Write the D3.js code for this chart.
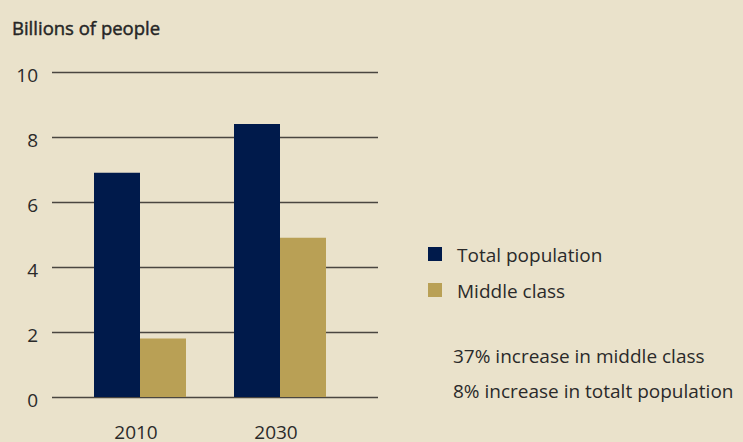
<!DOCTYPE html>
<html><head><meta charset="utf-8">
<script src="https://cdn.jsdelivr.net/npm/d3@7"></script>
<style>
html,body{margin:0;padding:0;background:#eae2cb;}
svg{display:block;font-family:"Open Sans","Noto Sans",sans-serif;}
</style></head>
<body>
<svg id="c" width="743" height="442"></svg>
<script>
const categories = ["2010", "2030"];
const seriesNames = ["Total population", "Middle class"];
const totalPopulation = [6.9, 8.4];
const middleClass = [1.8, 4.9];
const yTicks = [0, 2, 4, 6, 8, 10];
const notes = ["37% increase in middle class", "8% increase in totalt population"];
const colors = ["#001a4b", "#b9a055"];

const svg = d3.select("#c");
const W = 743, H = 442;
const FONT = "'Open Sans','Noto Sans',sans-serif";
svg.append("rect").attr("width", W).attr("height", H).attr("fill", "#eae2cb");

const x0 = 52, x1 = 378;
const y = d3.scaleLinear().domain([0, 10]).range([397, 72]);
const xb = d3.scaleBand().domain(categories).range([94, 326]).paddingInner(48 / 140).paddingOuter(0);
const xs = d3.scaleBand().domain(seriesNames).range([0, xb.bandwidth()]);

svg.append("text").attr("x", 12).attr("y", 35).attr("fill", "#262626")
  .attr("stroke", "#262626").attr("stroke-width", 0.45)
  .attr("font-size", 18.5).attr("font-weight", 400).text("Billions of people");

const axis = d3.axisLeft(y).tickValues(yTicks).tickSize(-(x1 - x0)).tickPadding(14).tickFormat(d3.format("d"));
const g = svg.append("g").attr("transform", `translate(${x0},0)`).call(axis);
g.select(".domain").remove();
g.selectAll(".tick line").attr("stroke", "#4a4640").attr("stroke-width", 1.4);
g.selectAll(".tick text").attr("fill", "#2a2a2a").attr("font-size", 19).attr("dy", "0.5em")
  .attr("font-family", FONT);

const data = categories.map((c, i) => ({ cat: c, vals: [totalPopulation[i], middleClass[i]] }));
const grp = svg.selectAll("g.grp").data(data).join("g").attr("class", "grp")
  .attr("transform", d => `translate(${xb(d.cat)},0)`);
grp.selectAll("rect").data(d => d.vals.map((v, j) => ({ v, s: seriesNames[j], j })))
  .join("rect")
  .attr("x", d => xs(d.s)).attr("width", xs.bandwidth())
  .attr("y", d => y(d.v)).attr("height", d => y(0) - y(d.v))
  .attr("fill", d => colors[d.j]);

const xa = d3.axisBottom(xb).tickSize(0).tickPadding(0);
const gx = svg.append("g").attr("transform", `translate(-4,${y(0)})`).call(xa);
gx.select(".domain").remove();
gx.selectAll(".tick text").attr("fill", "#2a2a2a").attr("font-size", 19).attr("dy", 0).attr("y", 42)
  .attr("font-family", FONT);

const leg = svg.append("g").attr("transform", "translate(428,247)");
seriesNames.forEach((s, i) => {
  leg.append("rect").attr("x", 0).attr("y", i * 36).attr("width", 14).attr("height", 14).attr("fill", colors[i]);
  leg.append("text").attr("x", 29).attr("y", i * 36 + 15).attr("fill", "#2a2a2a").attr("font-size", 19).text(s);
});

notes.forEach((t, i) => {
  svg.append("text").attr("x", 453).attr("y", 363 + i * 35).attr("fill", "#2a2a2a").attr("font-size", 19).text(t);
});
</script>
</body></html>
